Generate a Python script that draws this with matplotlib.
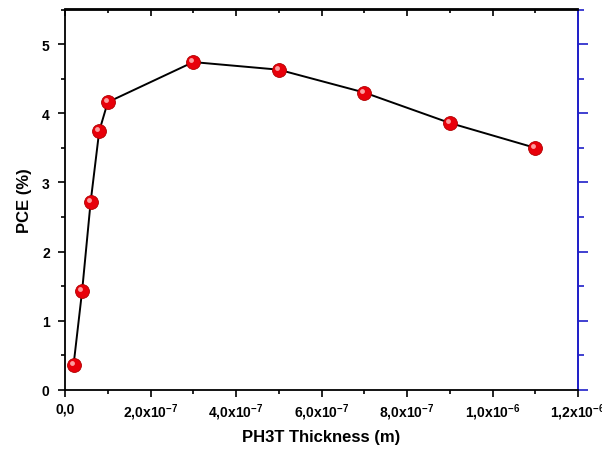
import numpy as np
import matplotlib.pyplot as plt
import matplotlib.transforms as mtransforms
from matplotlib.ticker import MultipleLocator

plt.rcParams['font.family'] = 'Liberation Sans'
plt.rcParams['font.weight'] = 'bold'
plt.rcParams['mathtext.default'] = 'regular'

# data
thickness = [2e-8, 4e-8, 6e-8, 8e-8, 1e-7, 3e-7, 5e-7, 7e-7, 9e-7, 1.1e-6]
pce = [0.36, 1.43, 2.72, 3.74, 4.16, 4.74, 4.63, 4.30, 3.86, 3.50]
x_ticks = [0, 2e-7, 4e-7, 6e-7, 8e-7, 1e-6, 1.2e-6]
x_tick_labels = ["0,0", "2,0x10$^{-7}$", "4,0x10$^{-7}$", "6,0x10$^{-7}$",
                 "8,0x10$^{-7}$", "1,0x10$^{-6}$", "1,2x10$^{-6}$"]

fig = plt.figure(figsize=(6.02, 4.56), dpi=100)
ax = fig.add_axes([65/602, 1 - 391/456, (578-65)/602, (391-10.5)/456])

ax.plot(thickness, pce, color='black', lw=1.4, zorder=2)
ax.plot(thickness, pce, 'o', ms=10, mfc='#e8000a', mec='#b00000', mew=0.6, zorder=3)
# small highlight so the markers look like spheres
hl = ax.transData + mtransforms.ScaledTranslation(-2/100, 2/100, fig.dpi_scale_trans)
ax.plot(thickness, pce, 'o', ms=3.5, mfc='#ffb0b0', mec='none', alpha=0.9,
        transform=hl, zorder=4)

ax.set_xlim(0, 1.2e-6)
ax.set_ylim(0, 5.5)
ax.set_xticks(x_ticks)
ax.set_xticklabels(x_tick_labels)
ax.xaxis.set_minor_locator(MultipleLocator(1e-7))
ax.yaxis.set_major_locator(MultipleLocator(1))
ax.yaxis.set_minor_locator(MultipleLocator(0.5))

ax.tick_params(which='both', direction='out', labelsize=10, width=1.2)
ax.tick_params(which='major', length=5)
ax.tick_params(which='minor', length=3)
ax.tick_params(axis='y', pad=6)
for sp in ax.spines.values():
    sp.set_linewidth(1.3)
ax.spines['right'].set_color('#2020c8')

# top axis, ticks pointing in
top = ax.secondary_xaxis('top')
top.set_xticks(x_ticks)
top.xaxis.set_minor_locator(MultipleLocator(1e-7))
top.tick_params(which='both', direction='in', labeltop=False, width=1.2)
top.tick_params(which='major', length=5)
top.tick_params(which='minor', length=3)
top.spines['top'].set_linewidth(1.3)

# right axis in blue, ticks out, no labels
right = ax.secondary_yaxis('right')
right.yaxis.set_major_locator(MultipleLocator(1))
right.yaxis.set_minor_locator(MultipleLocator(0.5))
right.tick_params(which='both', direction='out', labelright=False, color='#2020c8', width=1.2)
right.tick_params(which='major', length=7)
right.tick_params(which='minor', length=4)
right.spines['right'].set_color('#2020c8')
right.spines['right'].set_linewidth(1.3)

ax.set_xlabel("PH3T Thickness (m)", fontsize=12, fontweight='bold', labelpad=5)
ax.set_ylabel("PCE (%)", fontsize=12, fontweight='bold', labelpad=7)

fig.savefig("out.png", dpi=100)
